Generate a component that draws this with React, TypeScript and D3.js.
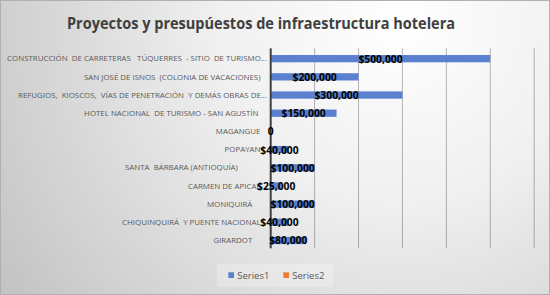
import React from "react";
import * as d3 from "d3";

const title = "Proyectos y presupúestos de infraestructura hotelera";

const categories = [
  "CONSTRUCCIÓN  DE CARRETERAS   TÚQUERRES  - SITIO  DE TURISMO...",
  "SAN JOSÉ DE ISNOS  (COLONIA DE VACACIONES)",
  "REFUGIOS,  KIOSCOS,  VÍAS DE PENETRACIÓN  Y DEMÁS OBRAS DE...",
  "HOTEL NACIONAL  DE TURISMO - SAN AGUSTÍN ",
  "MAGANGUE",
  "POPAYAN",
  "SANTA  BÁRBARA (ANTIOQUÍA)           ",
  "CARMEN DE APICAL",
  "MONIQUIRÁ    ",
  "CHIQUINQUIRÁ  Y PUENTE NACIONAL",
  "GIRARDOT    ",
];

const series1 = [500000, 200000, 300000, 150000, 0, 40000, 100000, 25000, 100000, 40000, 80000];
const series2: (number | null)[] = [null, null, null, null, null, null, null, null, null, null, null];

const seriesNames = ["Series1", "Series2"];
const seriesColors = ["#5B80CF", "#ED7D31"];
const gridTicks = [100000, 200000, 300000, 400000, 500000, 600000];

const W = 550;
const H = 295;
const plot = { left: 270.7, right: 534.2, top: 48.3, bottom: 248.3 };

export default function App() {
  const x = d3.scaleLinear().domain([0, 600000]).range([plot.left, plot.right]);
  const y = d3.scaleBand<string>().domain(categories).range([plot.top, plot.bottom]).paddingInner(0).paddingOuter(0);
  const bw = y.bandwidth();
  const barOff = bw * 0.37;
  const barH = bw * 0.4;
  const fmt = (v: number) => (v === 0 ? "0" : "$" + d3.format(",")(v));
  const labelFont = "'Open Sans', sans-serif";

  return (
    <div style={{ position: "absolute", left: 0, top: 0 }}>
      <svg width={W} height={H} style={{ display: "block" }}>
        <defs>
          <radialGradient id="bg" cx="400" cy="20" r="520" gradientUnits="userSpaceOnUse">
            <stop offset="0" stopColor="#ffffff" />
            <stop offset="0.35" stopColor="#f0f0f0" />
            <stop offset="1" stopColor="#bdbdbd" />
          </radialGradient>
        </defs>
        <rect x={0.5} y={0.5} width={W - 1} height={H - 1} fill="url(#bg)" stroke="#b0b0b0" />
        <text
          x={261}
          y={22}
          textAnchor="middle"
          dominantBaseline="central"
          fontFamily={labelFont}
          fontWeight="bold"
          fontSize={16.5}
          textLength={388}
          lengthAdjust="spacingAndGlyphs"
          fill="#404040"
        >
          {title}
        </text>
        {gridTicks.map((t) => (
          <line key={t} x1={x(t)} x2={x(t)} y1={plot.top} y2={plot.bottom} stroke="#000" strokeOpacity={0.28} strokeWidth={1} />
        ))}
        {categories.map((c, i) => {
          const v = series1[i];
          const by = (y(c) as number) + barOff;
          return (
            <g key={c}>
              <rect x={x(0)} y={by} width={x(v) - x(0)} height={barH} fill={seriesColors[0]} />
              {series2[i] != null && (
                <rect x={x(0)} y={by + barH} width={x(series2[i] as number) - x(0)} height={barH} fill={seriesColors[1]} />
              )}
            </g>
          );
        })}
        <line x1={plot.left} x2={plot.left} y1={plot.top} y2={plot.bottom} stroke="#404040" strokeWidth={2} />
        {categories.map((c) => {
          const trunc = c.endsWith("...");
          return (
            <text
              key={"l" + c}
              x={trunc ? 267 : 260.5}
              y={(y(c) as number) + bw / 2 + 1}
              textAnchor="end"
              dominantBaseline="central"
              fontFamily={labelFont}
              fontSize={7.9}
              fill="#595959"
              style={{ whiteSpace: "pre" }}
            >
              {c}
            </text>
          );
        })}
        {categories.map((c, i) => {
          const v = series1[i];
          const by = (y(c) as number) + barOff;
          return (
            <text
              key={"d" + c}
              x={(x(0) + x(v)) / 2}
              y={by + barH / 2}
              textAnchor="middle"
              dominantBaseline="central"
              fontFamily={labelFont}
              fontWeight="bold"
              fontSize={10.3}
              fill="#000"
            >
              {fmt(v)}
            </text>
          );
        })}
        <rect x={216.7} y={264} width={116} height={22.7} fill="#ffffff" fillOpacity={0.25} />
        {seriesNames.map((s, i) => {
          const lx = i === 0 ? 228.3 : 283.3;
          return (
            <g key={s}>
              <rect x={lx} y={272.3} width={5.7} height={5.7} fill={seriesColors[i]} />
              <text x={lx + 9} y={275.4} dominantBaseline="central" fontFamily={labelFont} fontSize={9.5} fill="#595959">
                {s}
              </text>
            </g>
          );
        })}
      </svg>
    </div>
  );
}
